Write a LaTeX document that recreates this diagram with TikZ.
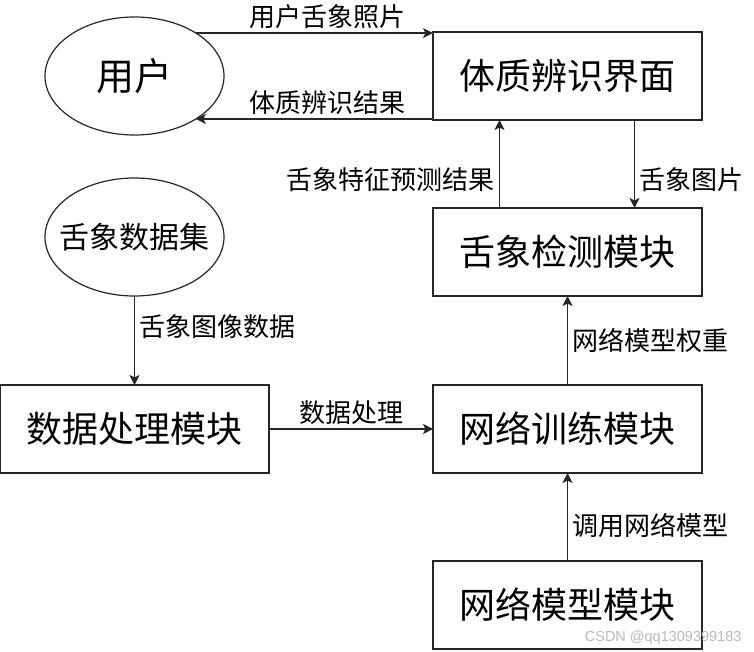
\documentclass[tikz,border=0pt]{standalone}
\usepackage{fontspec}
\setmainfont{Noto Sans CJK SC}
\newfontfamily\marcafont{Liberation Sans}
\usepackage{tikz}
\usetikzlibrary{calc,shapes,arrows.meta,positioning}
\tikzset{
    modulo/.style={rectangle,draw=black!85,line width=1.6pt,outer sep=0pt,minimum width=269pt,minimum height=88pt,inner sep=0pt,font=\fontsize{36}{40}\selectfont},
    actor/.style={ellipse,draw=black!85,line width=1.2pt,outer sep=0pt,minimum width=179pt,minimum height=118pt,inner sep=0pt},
    etiqueta/.style={font=\fontsize{26}{30}\selectfont,inner sep=4pt},
    flecha/.style={draw=black!85,line width=1.1pt,-{Stealth[length=10pt,width=10pt,inset=2.5pt]}},
}
\begin{document}
\begin{tikzpicture}[x=1pt,y=-1pt]
\useasboundingbox (0,0) rectangle (754,652);
% modulos
\node[modulo]                        (jiemian) at (567.5,76) {体质辨识界面};
\node[modulo,below=88pt of jiemian]  (jiance)  {舌象检测模块};
\node[modulo,below=89pt of jiance]   (xunlian) {网络训练模块};
\node[modulo,below=88pt of xunlian]  (moxing)  {网络模型模块};
\node[modulo,left=164pt of xunlian]  (chuli)   {数据处理模块};

% usuario y datos
\node[actor,font=\fontsize{38}{42}\selectfont]                              (yonghu) at (chuli |- jiemian) {用户};
\node[actor,font=\fontsize{30}{34}\selectfont,inner xsep=-12pt,anchor=south] (datos)  at (chuli.south |- jiance.south) {舌象数据集};

\draw[flecha] (yonghu.35) -- (yonghu.35 -| jiemian.west) node[etiqueta,pos=0.555,above] {用户舌象照片};
\draw[flecha] (yonghu.-35 -| jiemian.west) -- (yonghu.-35) node[etiqueta,pos=0.445,above] {体质辨识结果};

\draw[flecha] ([xshift=-68pt]jiance.north) -- ([xshift=-68pt]jiemian.south) node[etiqueta,pos=0.32,left] {舌象特征预测结果};
\draw[flecha] ([xshift=67pt]jiemian.south) -- ([xshift=67pt]jiance.north) node[etiqueta,pos=0.68,right] {舌象图片};

\draw[flecha] (datos.south) -- (datos.south |- chuli.north) node[etiqueta,pos=0.34,right] {舌象图像数据};
\draw[flecha] (chuli) -- (xunlian) node[etiqueta,midway,above] {数据处理};
\draw[flecha] (xunlian) -- (jiance) node[etiqueta,midway,right] {网络模型权重};
\draw[flecha] (moxing) -- (xunlian) node[etiqueta,pos=0.4,right] {调用网络模型};

\node[text=gray!55,font=\marcafont\fontsize{14.5}{16}\selectfont,anchor=east] (marca) at (745,638) {CSDN @qq1309399183};
\end{tikzpicture}
\end{document}
